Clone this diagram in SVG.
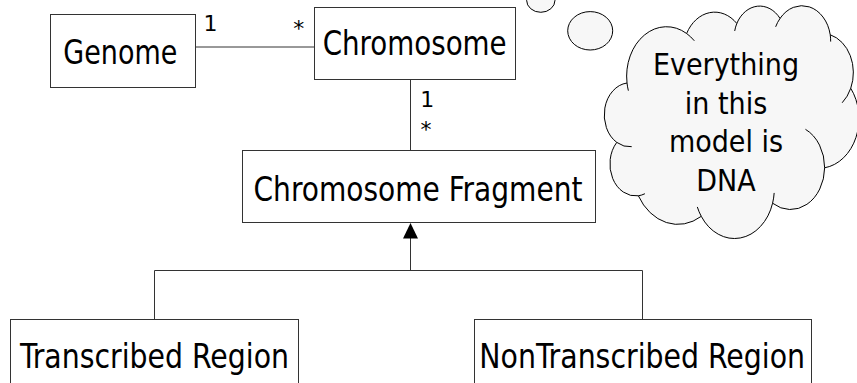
<svg xmlns="http://www.w3.org/2000/svg" width="857" height="383" viewBox="0 0 857 383">
  <style>
    .box { fill: #ffffff; stroke: #333333; stroke-width: 1; }
    .lbl { font-family: "DejaVu Sans Condensed", "DejaVu Sans", sans-serif; font-size: 33px; fill: #000000; text-anchor: middle; }
    .mult { font-family: "DejaVu Sans", sans-serif; font-size: 22px; fill: #000000; text-anchor: middle; }
    .conn { fill: none; stroke: #333333; stroke-width: 1; }
    .cloud { fill: #f7f7f7; stroke: #000000; stroke-width: 1; }
    .cloudin { fill: none; stroke: #000000; stroke-width: 1; }
    .ctext { font-family: "DejaVu Sans Condensed", "DejaVu Sans", sans-serif; font-size: 30px; fill: #000000; text-anchor: middle; }
  </style>

  <g id="connectors">
    <line class="conn" x1="195.5" y1="47" x2="314.5" y2="47"/>
    <line class="conn" x1="410.5" y1="79.5" x2="410.5" y2="150.5"/>
    <polyline class="conn" points="154.5,319.5 154.5,270.5 642.5,270.5 642.5,319.5"/>
    <line class="conn" x1="410.5" y1="270.5" x2="410.5" y2="237"/>
    <polygon points="410.5,223 418,238.5 403,238.5" fill="#000000"/>
    <text class="mult" x="210.4" y="30.7">1</text>
    <text class="mult" x="298.7" y="36">*</text>
    <text class="mult" x="427.2" y="107.3">1</text>
    <text class="mult" x="426" y="137.4">*</text>
  </g>

  <g id="genome">
    <rect class="box" x="50.5" y="14.5" width="145" height="73"/>
    <text class="lbl" x="120.3" y="64" textLength="114" lengthAdjust="spacingAndGlyphs">Genome</text>
  </g>

  <g id="chromosome">
    <rect class="box" x="314.5" y="7.5" width="201" height="72"/>
    <text class="lbl" x="414.7" y="55" textLength="184" lengthAdjust="spacingAndGlyphs">Chromosome</text>
  </g>

  <g id="chromosome-fragment">
    <rect class="box" x="242.5" y="150.5" width="353" height="72"/>
    <text class="lbl" x="418" y="200.7" textLength="329" lengthAdjust="spacingAndGlyphs">Chromosome Fragment</text>
  </g>

  <g id="transcribed-region">
    <rect class="box" x="10.5" y="319.5" width="288" height="72"/>
    <text class="lbl" x="154.5" y="368.3" textLength="269" lengthAdjust="spacingAndGlyphs">Transcribed Region</text>
  </g>

  <g id="nontranscribed-region">
    <rect class="box" x="474.5" y="319.5" width="337" height="72"/>
    <text class="lbl" x="642.2" y="368.3" textLength="325.7" lengthAdjust="spacingAndGlyphs">NonTranscribed Region</text>
  </g>

  <g id="note-cloud">
    <ellipse class="cloud" cx="540.8" cy="0.2" rx="14.2" ry="12.1"/>
    <ellipse class="cloud" cx="590.2" cy="30.8" rx="22.5" ry="19.2"/>
    <g transform="translate(604,5.5) scale(0.0059028,0.0053935)">
      <path class="cloud" vector-effect="non-scaling-stroke" d="M3900 14370 A6753 9190 0 0 1 14000 5192 A5333 7267 0 0 1 22500 3330 A4365 5945 0 0 1 29825 2400 A4857 6595 0 0 1 38324 5426 A5333 7273 0 0 1 41798 15354 A6775 9220 0 0 1 37380 30089 A5785 7867 0 0 1 28561 36661 A6752 9215 0 0 1 16478 39090 A7720 10543 0 0 1 5819 35281 A4360 5918 0 0 1 2160 25380 A4345 5945 0 0 1 3900 14370 Z"/>
      <path class="cloudin" vector-effect="non-scaling-stroke" d="M4693 26177 A4345 5945 0 0 1 2160 25380 M6928 34899 A4360 5918 0 0 1 5819 35281 M16478 39090 A6752 9215 0 0 1 15810 37350 M28827 34751 A6752 9215 0 0 1 28561 36661 M34129 22954 A5785 7867 0 0 1 37380 30089 M41798 15354 A5333 7273 0 0 1 40350 18031 M38324 5426 A4857 6595 0 0 1 38400 6690 M29078 3952 A4857 6595 0 0 1 29825 2400 M22141 4720 A4365 5945 0 0 1 22500 3330 M14000 5192 A6753 9190 0 0 1 15300 6539 M4127 15789 A6753 9190 0 0 1 3900 14370"/>
    </g>
    <text class="ctext" x="726" y="75">Everything</text>
    <text class="ctext" x="726" y="113.7">in this</text>
    <text class="ctext" x="726" y="152.4">model is</text>
    <text class="ctext" x="726" y="191.1">DNA</text>
  </g>
</svg>
